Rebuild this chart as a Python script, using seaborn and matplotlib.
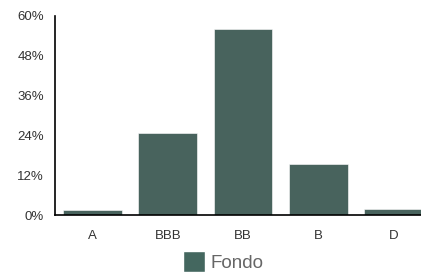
import matplotlib
matplotlib.use("Agg")
import matplotlib.pyplot as plt
import seaborn as sns
import pandas as pd
from matplotlib.ticker import FuncFormatter
from matplotlib.patches import Patch

categorias = ["A", "BBB", "BB", "B", "D"]
valores = [1.4, 24.8, 56.2, 15.4, 1.9]
ticks_y = [0, 12, 24, 36, 48, 60]
serie = "Fondo"

df = pd.DataFrame({"categoria": categorias, "valor": valores, "serie": serie})

sns.set_style("white")
plt.rcParams["font.family"] = ["Liberation Sans", "DejaVu Sans"]

fig = plt.figure(figsize=(4.21, 2.72), dpi=100)
ax = fig.add_axes([55 / 421, 1 - 215 / 272, (431 - 55) / 421, (215 - 16) / 272])

sns.barplot(data=df, x="categoria", y="valor", hue="serie", palette=["#44675f"],
            width=0.78, edgecolor="white", linewidth=0.4, ax=ax, legend=False)

ax.set_ylim(0, 60)
ax.set_xlim(-0.5, 4.5)
ax.set_yticks(ticks_y)
ax.yaxis.set_major_formatter(FuncFormatter(lambda v, p: f"{v:.0f}%"))
ax.tick_params(axis="both", length=0, labelsize=9.5, colors="#333333")
ax.tick_params(axis="y", pad=8)
ax.tick_params(axis="x", pad=11)
ax.set_xlabel("")
ax.set_ylabel("")
sns.despine(ax=ax, top=True, right=True)
for lado in ["left", "bottom"]:
    ax.spines[lado].set_color("black")
    ax.spines[lado].set_linewidth(1.2)

fig.legend(handles=[Patch(facecolor="#44675f", label=serie)], loc="center",
           bbox_to_anchor=(223 / 421, 1 - 261.5 / 272), frameon=False, fontsize=13.5,
           handlelength=1.2, handleheight=1.3, handletextpad=0.25,
           labelcolor="#666666", borderpad=0)

fig.savefig("out.png", dpi=100)
